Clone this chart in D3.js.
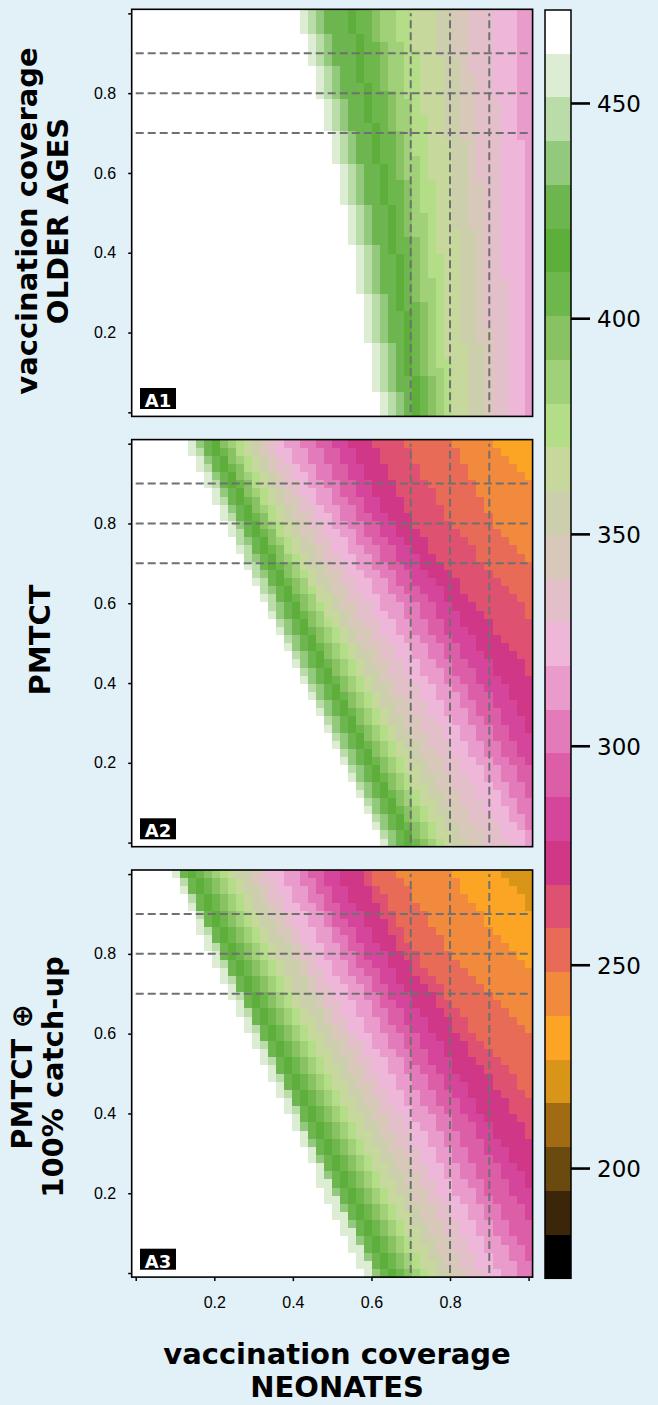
<!DOCTYPE html>
<html>
<head>
<meta charset="utf-8">
<script src="https://cdn.jsdelivr.net/npm/d3@7"></script>
<style>
  html, body { margin: 0; padding: 0; background: #e2f1f8; }
  svg { display: block; }
</style>
</head>
<body>
<script>
document.title = 'Vaccination coverage'

// grid of coverage values (neonates on columns, older ages on rows)
const coverage = [0, 0.0204, 0.0408, 0.0612, 0.0816, 0.1020, 0.1224, 0.1429, 0.1633, 0.1837,
  0.2041, 0.2245, 0.2449, 0.2653, 0.2857, 0.3061, 0.3265, 0.3469, 0.3673, 0.3878,
  0.4082, 0.4286, 0.4490, 0.4694, 0.4898, 0.5102, 0.5306, 0.5510, 0.5714, 0.5918,
  0.6122, 0.6327, 0.6531, 0.6735, 0.6939, 0.7143, 0.7347, 0.7551, 0.7755, 0.7959,
  0.8163, 0.8367, 0.8571, 0.8776, 0.8980, 0.9184, 0.9388, 0.9592, 0.9796, 1]

// colour key, from the top of the key down
const levelBreaks = [471.7, 461.5, 451.4, 441.2, 431.0, 420.9, 410.7, 400.6, 390.4, 380.3,
  370.2, 360.0, 349.9, 339.6, 329.3, 318.9, 308.6, 298.3, 288.3, 278.4,
  268.4, 258.5, 248.4, 237.6, 226.8, 216.0, 205.3, 194.5, 183.7, 172.9]
const levelColors = ['#ffffff', '#dcedd3', '#badca9', '#92c97d', '#6cb54f', '#5dae3a', '#6eb74d',
  '#88c263', '#a0d078', '#b4dd87', '#c6d89c', '#cccfac', '#d7c8b9', '#e3c0c9', '#eeb7d9',
  '#e99ccb', '#e37aba', '#db5ea7', '#d5459b', '#d13787', '#de5170', '#e76b57', '#f28a3d',
  '#fca524', '#d99518', '#a06b12', '#6b4a0f', '#3b2609', '#000000']
const keyTicks = [450, 400, 350, 300, 250, 200]

const axisTicks = [0, 0.2, 0.4, 0.6, 0.8, 1]
const axisLabels = ['', '0.2', '0.4', '0.6', '0.8', '']
const refLines = [0.7, 0.8, 0.9]
const panelTags = ['A1', 'A2', 'A3']
const rowTitles = [['vaccination coverage', 'OLDER AGES'], ['PMTCT'], ['PMTCT \u2295', '100% catch-up']]
const xTitle = ['vaccination coverage', 'NEONATES']

// For each colour level (1 = first shade under white, 2 = next ...): the first
// neonates column (0-49) where that level starts, one entry per older-ages row,
// from coverage 1.0 (top) down to 0. Missing trailing rows: level not reached.
const levelStartA1 = [
  [21,21,21,22,22,22,22,23,23,23,23,24,24,24,24,25,25,25,25,26,26,26,26,26,27,27,27,27,27,28,28,28,28,28,28,29,29,29,29,29,29,30,30,30,30,30,30,31,31,31],
  [22,22,22,23,23,23,23,24,24,24,24,25,25,25,25,26,26,26,26,27,27,27,27,27,28,28,28,28,28,29,29,29,29,29,29,30,30,30,30,30,30,31,31,31,31,31,31,32,32,32],
  [23,23,23,24,24,24,24,25,25,25,25,26,26,26,26,27,27,27,27,28,28,28,28,28,29,29,29,29,29,30,30,30,30,30,30,31,31,31,31,31,31,32,32,32,32,32,32,33,33,33],
  [24,24,24,25,25,25,25,26,26,26,26,27,27,27,27,28,28,28,28,29,29,29,29,29,30,30,30,30,30,31,31,31,31,31,31,32,32,32,32,32,32,33,33,33,33,33,33,34,34,34],
  [27,27,27,28,28,28,28,28,28,29,29,29,29,29,30,30,30,30,30,31,31,31,31,31,32,32,32,32,32,32,33,33,33,33,33,33,33,34,34,34,34,34,34,34,34,35,35,35,35,35],
  [28,28,28,29,29,29,29,29,29,30,30,30,30,30,31,31,31,31,31,32,32,32,32,32,33,33,33,33,33,33,34,34,34,34,34,34,34,35,35,35,35,35,35,35,35,36,36,36,36,36],
  [30,30,30,30,31,31,31,31,31,31,32,32,32,32,32,33,33,33,33,33,33,34,34,34,34,34,34,34,35,35,35,35,35,35,35,35,36,36,36,36,36,36,36,36,36,37,37,37,37,37],
  [31,31,31,31,32,32,32,32,32,32,33,33,33,33,33,34,34,34,34,34,34,35,35,35,35,35,35,35,36,36,36,36,36,36,36,36,37,37,37,37,37,37,37,37,37,38,38,38,38,38],
  [33,33,33,33,34,34,34,34,34,34,34,35,35,35,35,35,35,35,36,36,36,36,36,36,36,37,37,37,37,37,37,37,37,38,38,38,38,38,38,38,38,38,38,38,39,39,39,39,39,39],
  [35,35,35,35,35,36,36,36,36,36,36,36,36,37,37,37,37,37,37,37,37,38,38,38,38,38,38,38,38,38,39,39,39,39,39,39,39,39,39,39,39,39,39,40,40,40,40,40,40,40],
  [38,38,38,38,38,38,39,39,39,39,39,39,39,39,39,39,40,40,40,40,40,40,40,40,40,40,40,41,41,41,41,41,41,41,41,41,41,41,41,41,41,42,42,42,42,42,42,42,42,42],
  [40,40,40,40,40,40,41,41,41,41,41,41,41,41,41,41,42,42,42,42,42,42,42,42,42,42,42,43,43,43,43,43,43,43,43,43,43,43,43,43,43,44,44,44,44,44,44,44,44,44],
  [42,42,42,42,42,42,42,42,43,43,43,43,43,43,43,43,43,43,43,43,43,44,44,44,44,44,44,44,44,44,44,44,44,44,44,44,44,44,44,45,45,45,45,45,45,45,45,45,45,45],
  [45,45,45,45,45,45,45,45,45,45,45,46,46,46,46,46,46,46,46,46,46,46,46,46,46,46,46,46,46,46,46,46,46,47,47,47,47,47,47,47,47,47,47,47,47,47,47,47,47,47],
  [48,48,48,48,48,48,48,48,48,48,48,48,48,48,48,48,49,49,49,49,49,49,49,49,49,49,49,49,49,49,49,49,49,49,49,49,49,49,49,49,49,49,49,49,49,49,49,49,49,49]
]

const levelStartA2 = [
  [7,7,8,8,9,9,10,10,11,11,12,12,13,13,14,14,15,15,16,16,17,17,18,18,19,19,20,20,21,21,22,22,23,23,24,24,25,25,26,26,27,27,28,28,29,29,30,30,31,31],
  [8,8,9,9,10,10,11,11,12,12,13,13,13,14,14,15,15,16,16,17,17,18,18,19,19,20,20,21,21,22,22,23,23,24,24,25,25,26,26,27,27,28,28,29,29,30,30,31,31,32],
  [8,9,9,10,10,11,11,12,12,13,13,14,14,15,15,16,16,17,17,18,18,18,19,19,20,20,21,21,22,22,23,23,24,24,25,25,26,26,27,27,28,28,29,29,30,30,31,31,32,32],
  [9,9,10,10,11,11,12,12,13,13,14,14,15,15,16,16,17,17,18,18,19,19,20,20,21,21,22,22,23,23,24,24,25,25,26,26,27,27,28,28,29,29,30,30,31,31,32,32,33,33],
  [10,10,11,11,12,12,13,13,14,14,15,15,16,16,17,17,18,18,19,19,20,20,21,21,22,22,23,23,24,24,25,25,26,26,27,27,28,28,29,29,30,30,31,31,32,32,33,33,34,34],
  [11,11,12,12,13,13,14,14,15,15,16,16,17,17,18,18,19,19,20,20,21,21,22,22,23,23,24,24,25,25,26,26,27,27,28,28,29,29,30,30,31,31,32,32,33,33,34,34,35,35],
  [11,12,12,13,13,14,14,15,15,16,16,17,17,18,18,19,19,20,20,21,21,22,22,23,23,24,24,25,25,26,26,27,27,28,28,29,29,30,30,31,31,32,32,33,33,34,34,35,35,36],
  [12,13,13,14,14,15,15,16,16,17,17,18,18,19,19,20,20,21,21,22,22,23,23,24,24,25,25,26,26,27,27,28,28,29,29,30,30,31,31,32,32,33,33,34,34,35,35,36,36,37],
  [13,13,14,14,15,15,16,16,17,17,18,18,19,19,20,21,21,22,22,23,23,24,24,25,25,26,26,27,27,28,28,29,29,30,30,31,31,32,32,33,33,34,34,35,35,36,36,37,37,38],
  [14,14,15,15,16,16,17,17,18,18,19,19,20,20,21,21,22,22,23,23,24,24,25,26,26,27,27,28,28,29,29,30,30,31,31,32,32,33,33,34,34,35,35,36,36,37,37,38,38,39],
  [15,15,16,16,17,17,18,18,19,19,20,20,21,21,22,22,23,23,24,25,25,26,26,27,27,28,28,29,29,30,30,31,31,32,32,33,33,34,35,35,36,36,37,37,38,38,39,39,40,40],
  [16,16,17,17,18,18,19,19,20,20,21,21,22,23,23,24,24,25,25,26,26,27,27,28,28,29,30,30,31,31,32,32,33,33,34,34,35,36,36,37,37,38,38,39,39,40,40,41,41,42],
  [17,17,18,18,19,19,20,21,21,22,22,23,23,24,24,25,26,26,27,27,28,28,29,30,30,31,31,32,32,33,33,34,35,35,36,36,37,37,38,39,39,40,40,41,41,42,42,43,44,44],
  [18,18,19,20,20,21,21,22,23,23,24,24,25,25,26,27,27,28,28,29,30,30,31,31,32,33,33,34,34,35,36,36,37,37,38,39,39,40,40,41,41,42,43,43,44,44,45,46,46,47],
  [19,20,20,21,22,22,23,23,24,25,25,26,27,27,28,28,29,30,30,31,31,32,33,33,34,35,35,36,36,37,38,38,39,39,40,41,41,42,42,43,44,44,45,46,46,47,47,48,49,49],
  [21,22,22,23,23,24,25,25,26,26,27,28,28,29,30,30,31,32,32,33,34,34,35,35,36,37,37,38,39,39,40,41,41,42,42,43,43,44,44,45,46,46,47,47,48,48,49,49],
  [23,24,24,25,25,26,26,27,28,28,29,29,30,31,31,32,33,33,34,35,36,36,37,37,38,39,39,40,40,41,42,42,43,43,44,45,45,46,46,47,48,48,49,49],
  [25,26,26,27,27,28,28,29,29,30,31,31,32,33,33,34,35,35,36,37,38,38,39,39,40,41,41,42,43,43,44,45,45,46,46,47,47,48,48,49],
  [27,28,28,29,29,30,30,31,31,32,33,33,34,35,36,36,37,38,39,39,40,41,41,42,43,43,44,45,45,46,47,47,48,48,49,49],
  [30,31,31,32,32,33,33,34,34,35,35,36,37,37,38,39,40,41,41,42,43,44,45,45,46,47,48,49,49],
  [34,35,35,36,36,37,38,38,39,39,40,41,42,43,43,44,45,46,47,48,49,49],
  [40,41,41,42,42,43,43,44,44,45,45,46,47,48,49],
  [45,46,47,48,49]
]

const levelStartA3 = [
  [5,6,6,7,7,8,8,8,9,9,10,10,11,11,12,12,13,13,14,14,15,15,16,16,17,17,18,18,19,19,20,20,21,21,22,22,23,23,23,24,24,25,25,26,26,27,27,28,28,29],
  [6,6,7,7,8,8,9,9,10,10,11,11,12,12,13,13,14,14,15,15,16,16,17,17,18,18,19,19,20,20,21,21,22,22,23,23,24,24,25,25,26,26,27,27,28,28,29,29,30,30],
  [6,7,7,8,8,9,9,10,10,11,11,12,12,13,13,14,14,15,15,16,16,17,17,18,18,19,19,20,20,21,21,21,22,22,23,23,24,24,25,25,26,26,27,27,28,28,29,29,30,30],
  [6,7,7,8,8,9,9,10,10,11,11,12,12,13,13,14,14,15,15,16,16,17,17,18,18,19,19,20,20,21,21,22,22,23,23,24,24,25,25,26,26,27,27,28,28,29,29,30,30,31],
  [7,8,8,9,9,10,10,11,11,12,12,13,13,14,14,15,15,16,16,17,17,18,18,19,19,20,20,21,21,22,22,23,23,24,24,25,25,26,26,27,27,28,28,29,29,30,30,31,31,32],
  [8,9,9,10,10,11,11,12,12,13,13,14,14,15,15,16,16,17,17,18,18,19,19,20,20,21,21,22,22,23,23,24,24,25,25,26,26,27,27,28,28,29,29,30,30,31,31,32,32,33],
  [9,10,10,11,11,12,12,13,13,14,14,15,15,16,16,17,17,18,18,19,19,20,20,21,21,22,22,23,23,24,24,25,25,26,26,27,27,28,28,29,29,30,30,31,31,32,32,33,33,34],
  [10,11,11,12,12,13,13,14,14,15,15,16,16,17,17,18,18,19,19,20,20,21,21,22,22,23,23,24,24,25,25,26,26,27,27,28,28,29,29,30,30,31,31,32,32,33,33,34,34,35],
  [11,12,12,13,13,14,14,15,15,16,16,17,17,18,18,19,19,20,20,21,21,22,22,23,23,24,24,25,25,26,26,27,27,28,28,29,29,30,30,31,31,32,32,33,33,34,34,35,35,36],
  [12,13,13,14,14,15,15,16,16,17,17,18,18,19,19,20,20,21,21,22,22,23,23,24,24,25,25,26,26,27,27,28,28,29,29,30,30,31,31,32,32,33,33,34,34,35,35,36,36,37],
  [13,14,14,15,15,16,16,17,17,18,18,19,19,20,20,21,21,22,23,23,24,24,25,25,26,26,27,27,28,28,29,29,30,30,31,31,32,32,33,33,34,34,35,35,36,36,37,37,38,38],
  [15,15,16,16,17,17,18,18,19,20,20,21,21,22,22,23,23,24,24,25,25,26,26,27,27,28,28,29,29,30,30,31,31,32,32,33,33,34,34,35,35,36,36,37,37,38,38,39,39,40],
  [16,16,17,17,18,19,19,20,20,21,21,22,22,23,23,24,24,25,25,26,27,27,28,28,29,29,30,30,31,31,32,32,33,33,34,35,35,36,36,37,37,38,38,39,39,40,40,41,41,42],
  [17,18,18,19,19,20,20,21,21,22,23,23,24,24,25,25,26,26,27,27,28,29,29,30,30,31,31,32,32,33,34,34,35,35,36,36,37,37,38,38,39,40,40,41,41,42,42,43,43,44],
  [19,19,20,20,21,22,22,23,23,24,24,25,25,26,27,27,28,28,29,29,30,30,31,32,32,33,33,34,34,35,35,36,37,37,38,38,39,39,40,40,41,42,42,43,43,44,44,45,45,46],
  [21,21,22,22,23,24,24,25,25,26,26,27,27,28,29,29,30,30,31,31,32,32,33,34,34,35,35,36,36,37,38,38,39,39,40,40,41,41,42,43,43,44,44,45,45,46,47,47,48,48],
  [22,23,23,24,24,25,25,26,27,27,28,28,29,30,30,31,31,32,32,33,34,34,35,35,36,37,37,38,38,39,40,40,41,41,42,42,43,43,44,44,45,46,46,47,47,48,49,49],
  [24,24,25,25,26,26,27,28,28,29,29,30,31,31,32,32,33,34,34,35,36,36,37,37,38,39,39,40,41,41,42,43,43,44,44,45,46,46,47,47,48,49,49],
  [26,26,27,27,28,29,29,30,30,31,32,32,33,33,34,35,35,36,37,37,38,39,39,40,40,41,42,42,43,43,44,45,45,46,47,47,48,49,49],
  [29,29,30,30,31,31,32,32,33,33,34,35,35,36,37,38,38,39,40,40,41,42,42,43,44,45,45,46,47,47,48,49,49],
  [30,30,31,32,32,33,33,34,34,35,36,36,37,38,39,39,40,41,42,42,43,44,45,46,47,48,48,49],
  [33,34,35,35,36,37,37,38,39,39,40,41,42,43,44,45,46,47,48,49],
  [40,41,41,42,43,44,44,45,46,47,48,49],
  [46,47,48,49,49]
]

const panels = [levelStartA1, levelStartA2, levelStartA3]

const width = 658
const height = 1405
const svg = d3.select('body').append('svg').attr('width', width).attr('height', height)

const left = 131.7
const right = 532.6
const panelTop = [9.3, 439.6, 870]
const panelH = 407.1
const half = 0.5 / 49
const titleY = [221, 640, 1077]
const titleX = [[37, 68], [50], [32, 63]]

const x = d3.scaleLinear().domain([-half, 1 + half]).range([left, right])
const xCell = d3.scaleBand().domain(coverage).range([left, right])

// threshold colour scale shared by cells and key
const color = d3.scaleThreshold()
  .domain(levelBreaks.slice(1, -1).reverse())
  .range(levelColors.slice().reverse())

panels.forEach((starts, p) => {
  const top = panelTop[p]
  const bottom = top + panelH
  const y = d3.scaleLinear().domain([-half, 1 + half]).range([bottom, top])
  const yCell = d3.scaleBand().domain(coverage).range([bottom, top])

  const cells = []
  for (let r = 0; r < 50; r++) {
    for (let c = 0; c < 50; c++) {
      const level = d3.sum(starts, s => c >= (s[r] ?? Infinity) ? 1 : 0)
      cells.push({
        neo: coverage[c],
        old: coverage[49 - r],
        value: (levelBreaks[level] + levelBreaks[level + 1]) / 2
      })
    }
  }

  const g = svg.append('g')
  g.append('g').attr('shape-rendering', 'crispEdges')
    .selectAll('rect').data(cells).enter().append('rect')
    .attr('x', d => xCell(d.neo))
    .attr('y', d => yCell(d.old))
    .attr('width', xCell.bandwidth() + 0.6)
    .attr('height', yCell.bandwidth() + 0.6)
    .attr('fill', d => color(d.value))

  // reference coverage lines
  const dash = g.append('g')
    .attr('stroke', '#707070').attr('stroke-width', 2).attr('stroke-dasharray', '8,4')
  dash.selectAll('.h').data(refLines).enter().append('line')
    .attr('x1', x(0)).attr('x2', x(1))
    .attr('y1', d => y(d)).attr('y2', d => y(d))
  dash.selectAll('.v').data(refLines).enter().append('line')
    .attr('x1', d => x(d)).attr('x2', d => x(d))
    .attr('y1', y(0)).attr('y2', y(1))

  g.append('rect')
    .attr('x', left).attr('y', top)
    .attr('width', right - left).attr('height', panelH)
    .attr('fill', 'none').attr('stroke', '#000').attr('stroke-width', 1.6)

  // y axis
  const ay = g.append('g').attr('transform', `translate(${left},0)`)
    .call(d3.axisLeft(y).tickValues(axisTicks).tickFormat((d, i) => axisLabels[i])
      .tickSize(3.5).tickPadding(12))
  ay.select('.domain').remove()
  ay.selectAll('line').attr('stroke-width', 1.5)
  ay.selectAll('text').attr('font-family', '"Liberation Sans", Arial, sans-serif')
    .attr('font-size', 16).attr('fill', '#000')

  if (p === panels.length - 1) {
    const ax = g.append('g').attr('transform', `translate(0,${bottom})`)
      .call(d3.axisBottom(x).tickValues(axisTicks).tickFormat((d, i) => axisLabels[i])
        .tickSize(4).tickPadding(16))
    ax.select('.domain').remove()
    ax.selectAll('line').attr('stroke-width', 1.5)
    ax.selectAll('text').attr('font-family', '"Liberation Sans", Arial, sans-serif')
      .attr('font-size', 16).attr('fill', '#000')
  }

  // panel tag
  g.append('rect')
    .attr('x', left + 8.3).attr('y', bottom - 28.4)
    .attr('width', 36).attr('height', 21).attr('fill', '#000')
  g.append('text')
    .attr('x', left + 26.3).attr('y', bottom - 9.6)
    .attr('text-anchor', 'middle')
    .attr('font-family', '"DejaVu Sans", sans-serif').attr('font-weight', 'bold')
    .attr('font-size', 18).attr('fill', '#fff')
    .text(panelTags[p])

  // row title
  rowTitles[p].forEach((t, i) => {
    svg.append('text')
      .attr('transform', `translate(${titleX[p][i]},${titleY[p]}) rotate(-90)`)
      .attr('text-anchor', 'middle')
      .attr('font-family', '"DejaVu Sans", sans-serif').attr('font-weight', 'bold')
      .attr('font-size', 29).attr('fill', '#000')
      .text(t)
  })
})

// x title
xTitle.forEach((t, i) => {
  svg.append('text')
    .attr('x', 337).attr('y', 1364 + i * 33)
    .attr('text-anchor', 'middle')
    .attr('font-family', '"DejaVu Sans", sans-serif').attr('font-weight', 'bold')
    .attr('font-size', 29).attr('fill', '#000')
    .text(t)
})

// colour key
const keyLeft = 545
const keyW = 26
const keyTop = 10
const keyBottom = 1278.3
const bandH = (keyBottom - keyTop) / (levelBreaks.length - 1)
const keyY = d3.scaleLinear().domain(levelBreaks)
  .range(levelBreaks.map((d, i) => keyTop + i * bandH))

const key = svg.append('g')
key.append('g').attr('shape-rendering', 'crispEdges')
  .selectAll('rect').data(levelColors).enter().append('rect')
  .attr('x', keyLeft)
  .attr('y', (d, i) => keyY(levelBreaks[i]))
  .attr('width', keyW)
  .attr('height', (d, i) => keyY(levelBreaks[i + 1]) - keyY(levelBreaks[i]) + 0.5)
  .attr('fill', d => d)
key.append('rect')
  .attr('x', keyLeft).attr('y', keyTop)
  .attr('width', keyW).attr('height', keyBottom - keyTop)
  .attr('fill', 'none').attr('stroke', '#000').attr('stroke-width', 1.5)
key.selectAll('.tick').data(keyTicks).enter().append('line')
  .attr('x1', keyLeft + keyW).attr('x2', keyLeft + keyW + 19)
  .attr('y1', d => keyY(d)).attr('y2', d => keyY(d))
  .attr('stroke', '#000').attr('stroke-width', 2.6)
key.selectAll('.lab').data(keyTicks).enter().append('text')
  .attr('x', keyLeft + keyW + 26)
  .attr('y', d => keyY(d))
  .attr('dy', '0.36em')
  .attr('font-family', '"DejaVu Sans", sans-serif')
  .attr('font-size', 23).attr('fill', '#000')
  .text(d => d)
</script>
</body>
</html>
